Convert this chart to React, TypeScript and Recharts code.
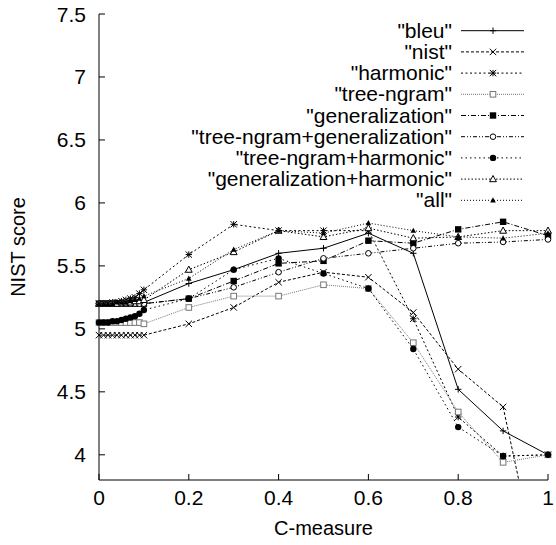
import React from "react";
import { LineChart, Line, XAxis, YAxis, Legend } from "recharts";

// C-measure sample points (dense near 0, then every 0.1)
const cMeasure = [0, 0.01, 0.02, 0.03, 0.04, 0.05, 0.06, 0.07, 0.08, 0.09, 0.1, 0.2, 0.3, 0.4, 0.5, 0.6, 0.7, 0.8, 0.9, 1];

// NIST scores, one array per run
const bleu = [5.2, 5.2, 5.2, 5.2, 5.2, 5.2, 5.2, 5.2, 5.2, 5.21, 5.21, 5.36, 5.47, 5.6, 5.64, 5.76, 5.6, 4.52, 4.19, 4.0];
const nist = [4.95, 4.95, 4.95, 4.95, 4.95, 4.95, 4.95, 4.95, 4.95, 4.95, 4.95, 5.04, 5.17, 5.37, 5.45, 5.41, 5.13, 4.68, 4.38, 2.72];
const harmonic = [5.2, 5.2, 5.2, 5.21, 5.21, 5.22, 5.23, 5.24, 5.25, 5.28, 5.31, 5.59, 5.83, 5.78, 5.78, 5.78, 5.08, 4.3, 3.99, 4.0];
const treeNgram = [5.05, 5.05, 5.05, 5.05, 5.05, 5.05, 5.05, 5.05, 5.05, 5.05, 5.04, 5.17, 5.26, 5.26, 5.35, 5.32, 4.89, 4.34, 3.94, 4.0];
const generalization = [5.2, 5.2, 5.2, 5.2, 5.2, 5.2, 5.2, 5.2, 5.2, 5.2, 5.2, 5.24, 5.38, 5.52, 5.54, 5.7, 5.68, 5.79, 5.85, 5.74];
const treeNgramGen = [5.2, 5.2, 5.2, 5.2, 5.2, 5.2, 5.2, 5.2, 5.2, 5.2, 5.2, 5.24, 5.33, 5.45, 5.56, 5.6, 5.64, 5.68, 5.69, 5.71];
const treeNgramHarm = [5.05, 5.05, 5.05, 5.06, 5.06, 5.07, 5.08, 5.09, 5.1, 5.12, 5.15, 5.24, 5.47, 5.56, 5.44, 5.32, 4.84, 4.22, 3.99, 4.0];
const genHarm = [5.2, 5.2, 5.2, 5.2, 5.2, 5.21, 5.21, 5.21, 5.22, 5.22, 5.23, 5.47, 5.61, 5.78, 5.73, 5.8, 5.72, 5.73, 5.78, 5.78];
const all = [5.2, 5.2, 5.2, 5.2, 5.21, 5.21, 5.21, 5.22, 5.23, 5.24, 5.26, 5.4, 5.63, 5.78, 5.76, 5.84, 5.78, 5.73, 5.72, 5.76];

const xTicks = [0, 0.2, 0.4, 0.6, 0.8, 1];
const yTicks = [4, 4.5, 5, 5.5, 6, 6.5, 7, 7.5];

const FONT = "'Liberation Sans', Arial, Helvetica, sans-serif";

type MarkerKind = "plus" | "cross" | "star" | "box" | "boxFilled" | "circle" | "circleFilled" | "triangle" | "triangleFilled";

const SERIES: { key: string; label: string; values: number[]; marker: MarkerKind; dash?: string; color: string }[] = [
    { key: "bleu", label: '"bleu"', values: bleu, marker: "plus", color: "#000" },
    { key: "nist", label: '"nist"', values: nist, marker: "cross", dash: "3 2", color: "#000" },
    { key: "harmonic", label: '"harmonic"', values: harmonic, marker: "star", dash: "2 2.5", color: "#000" },
    { key: "treeNgram", label: '"tree-ngram"', values: treeNgram, marker: "box", dash: "1 1", color: "#777" },
    { key: "generalization", label: '"generalization"', values: generalization, marker: "boxFilled", dash: "5 2 1 2", color: "#000" },
    { key: "treeNgramGen", label: '"tree-ngram+generalization"', values: treeNgramGen, marker: "circle", dash: "4 2 1 2 1 2", color: "#000" },
    { key: "treeNgramHarm", label: '"tree-ngram+harmonic"', values: treeNgramHarm, marker: "circleFilled", dash: "1.5 3", color: "#000" },
    { key: "genHarm", label: '"generalization+harmonic"', values: genHarm, marker: "triangle", dash: "1.5 2", color: "#000" },
    { key: "all", label: '"all"', values: all, marker: "triangleFilled", dash: "1 2", color: "#000" },
];

const data = cMeasure.map((c, i) => {
    const row: Record<string, number> = { c };
    SERIES.forEach(s => { row[s.key] = s.values[i]; });
    return row;
});

function Marker({ kind, cx, cy, color }: { kind: MarkerKind; cx: number; cy: number; color: string }) {
    if (cx == null || cy == null || isNaN(cx) || isNaN(cy)) return null;
    const s = 3.2;
    switch (kind) {
        case "plus":
            return <path d={`M${cx - s},${cy}H${cx + s}M${cx},${cy - s}V${cy + s}`} stroke={color} fill="none" />;
        case "cross":
            return <path d={`M${cx - s},${cy - s}L${cx + s},${cy + s}M${cx - s},${cy + s}L${cx + s},${cy - s}`} stroke={color} fill="none" />;
        case "star":
            return <path d={`M${cx - s},${cy}H${cx + s}M${cx},${cy - s}V${cy + s}M${cx - s},${cy - s}L${cx + s},${cy + s}M${cx - s},${cy + s}L${cx + s},${cy - s}`} stroke={color} fill="none" />;
        case "box":
            return <rect x={cx - 2.8} y={cy - 2.8} width={5.6} height={5.6} stroke={color} fill="#fff" />;
        case "boxFilled":
            return <rect x={cx - 3.2} y={cy - 3.2} width={6.4} height={6.4} fill={color} />;
        case "circle":
            return <circle cx={cx} cy={cy} r={2.8} stroke={color} fill="#fff" />;
        case "circleFilled":
            return <circle cx={cx} cy={cy} r={3.2} fill={color} />;
        case "triangle":
            return <path d={`M${cx},${cy - 3.6}L${cx + 3.4},${cy + 2.6}L${cx - 3.4},${cy + 2.6}Z`} stroke={color} fill="#fff" />;
        case "triangleFilled":
            return <path d={`M${cx},${cy - 3}L${cx + 2.8},${cy + 2.2}L${cx - 2.8},${cy + 2.2}Z`} fill={color} />;
    }
    return null;
}

function LegendBox() {
    return (
        <svg width={556} height={215} style={{ display: "block" }}>
            {SERIES.map((s, i) => {
                const y = 30.7 + i * 21.2;
                return (
                    <g key={s.key}>
                        <text x={452} y={y + 7} textAnchor="end" fontSize={21} fontFamily={FONT} fill="#000">{s.label}</text>
                        <line x1={461} x2={524} y1={y} y2={y} stroke={s.color} strokeDasharray={s.dash} />
                        <Marker kind={s.marker} cx={493} cy={y} color={s.color} />
                    </g>
                );
            })}
        </svg>
    );
}

const XTickBottom = (props: any) => {
    const { x, y, payload } = props;
    return (
        <g>
            <line x1={x} y1={y} x2={x} y2={y - 6} stroke="#000" />
            <text x={x} y={y + 25} textAnchor="middle" fontSize={21} fontFamily={FONT} fill="#000">{String(payload.value)}</text>
        </g>
    );
};

const XTickTop = (props: any) => {
    const { x, y } = props;
    return <line x1={x} y1={y} x2={x} y2={y + 6} stroke="#000" />;
};

const YTickLeft = (props: any) => {
    const { x, y, payload } = props;
    return (
        <g>
            <line x1={x} y1={y} x2={x + 6} y2={y} stroke="#000" />
            <text x={x - 13} y={y + 7.5} textAnchor="end" fontSize={21} fontFamily={FONT} fill="#000">{String(payload.value)}</text>
        </g>
    );
};

const YTickRight = (props: any) => {
    const { x, y } = props;
    return <line x1={x} y1={y} x2={x - 6} y2={y} stroke="#000" />;
};

export default function App() {
    return (
        <div style={{ position: "absolute", left: 0, top: 0, width: 556, height: 545, background: "#fff" }}>
            <LineChart width={556} height={545} data={data} margin={{ top: 14, right: 8, left: 0, bottom: 0 }}>
                <XAxis
                    dataKey="c"
                    type="number"
                    domain={[0, 1]}
                    ticks={xTicks}
                    interval={0}
                    height={65}
                    tickSize={0}
                    tickMargin={0}
                    tickLine={false}
                    axisLine={{ stroke: "#000" }}
                    tick={XTickBottom}
                    label={{
                        content: ({ viewBox }: any) => (
                            <text x={viewBox.x + viewBox.width / 2} y={viewBox.y + 55} textAnchor="middle" fontSize={20} fontFamily={FONT} fill="#000">C-measure</text>
                        ),
                    }}
                />
                <XAxis
                    xAxisId="top"
                    orientation="top"
                    dataKey="c"
                    type="number"
                    domain={[0, 1]}
                    ticks={xTicks}
                    interval={0}
                    height={0}
                    tickSize={0}
                    tickMargin={0}
                    tickLine={false}
                    axisLine={{ stroke: "#000" }}
                    tick={XTickTop}
                />
                <YAxis
                    type="number"
                    domain={[3.8, 7.5]}
                    allowDataOverflow
                    ticks={yTicks}
                    interval={0}
                    width={99}
                    tickSize={0}
                    tickMargin={0}
                    tickLine={false}
                    axisLine={{ stroke: "#000" }}
                    tick={YTickLeft}
                    label={{
                        content: ({ viewBox }: any) => {
                            const cy = viewBox.y + viewBox.height / 2;
                            return (
                                <text x={18} y={cy} transform={`rotate(-90 18 ${cy})`} textAnchor="middle" dominantBaseline="central" fontSize={20} fontFamily={FONT} fill="#000">NIST score</text>
                            );
                        },
                    }}
                />
                <YAxis
                    yAxisId="right"
                    orientation="right"
                    type="number"
                    domain={[3.8, 7.5]}
                    allowDataOverflow
                    ticks={yTicks}
                    interval={0}
                    width={0}
                    tickSize={0}
                    tickMargin={0}
                    tickLine={false}
                    axisLine={{ stroke: "#000" }}
                    tick={YTickRight}
                />
                <Legend
                    layout="horizontal"
                    verticalAlign="middle"
                    align="center"
                    wrapperStyle={{ position: "absolute", left: 0, top: 0, width: 556, height: 215 }}
                    content={() => <LegendBox />}
                />
                {SERIES.map(s => (
                    <Line
                        key={s.key}
                        dataKey={s.key}
                        type="linear"
                        stroke={s.color}
                        strokeWidth={1}
                        strokeDasharray={s.dash}
                        isAnimationActive={false}
                        activeDot={false}
                        dot={(p: any) => <Marker key={`${s.key}-${p.index}`} kind={s.marker} cx={p.cx} cy={p.cy} color={s.color} />}
                    />
                ))}
            </LineChart>
        </div>
    );
}
